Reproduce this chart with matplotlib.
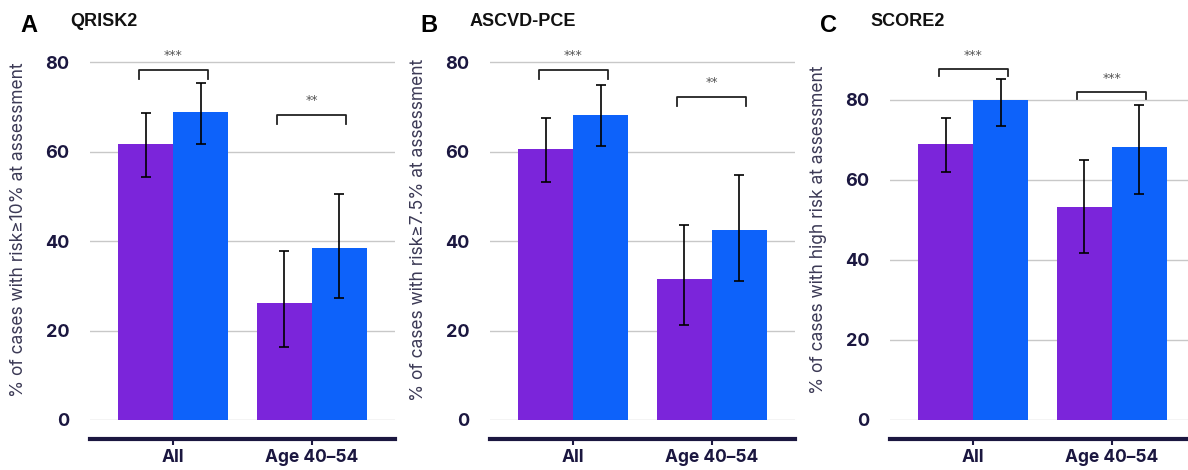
import matplotlib
matplotlib.use("Agg")
import matplotlib.pyplot as plt
import numpy as np

# date
grupe = ["All", "Age 40\u201354"]
panouri = ["A", "B", "C"]
titluri = ["QRISK2", "ASCVD-PCE", "SCORE2"]
etichete_y = ["% of cases with risk\u226510% at assessment",
              "% of cases with risk\u22657.5% at assessment",
              "% of cases with high risk at assessment"]

mov_val = [[61.7, 26.1], [60.6, 31.5], [69.0, 53.3]]
mov_jos = [[54.3, 16.3], [53.2, 21.2], [62.0, 41.7]]
mov_sus = [[68.6, 37.8], [67.5, 43.6], [75.5, 65.0]]

alb_val = [[68.8, 38.4], [68.2, 42.5], [80.0, 68.3]]
alb_jos = [[61.7, 27.3], [61.2, 31.1], [73.5, 56.5]]
alb_sus = [[75.3, 50.5], [74.9, 54.7], [85.3, 78.8]]

stele = [["***", "**"], ["***", "**"], ["***", "***"]]
paranteze = [[78.2, 68.2], [78.2, 72.2], [87.8, 82.0]]

limite_y = [85, 85, 95]
ticks_y = [[0, 20, 40, 60, 80], [0, 20, 40, 60, 80], [0, 20, 40, 60, 80]]

MOV = "#7B25DA"
ALBASTRU = "#0D62FA"
NAVY = "#1B1740"

fig = plt.figure(figsize=(11.88, 4.70), dpi=100)
stanga = [90, 490, 890]

for i in range(3):
    ax = fig.add_axes([stanga[i] / 1188, 50 / 470, 305 / 1188, 380 / 470])
    x = np.arange(len(grupe))
    w = 0.396
    m = np.array(mov_val[i])
    b = np.array(alb_val[i])
    ax.bar(x - w / 2, m, w, color=MOV, zorder=2)
    ax.bar(x + w / 2, b, w, color=ALBASTRU, zorder=2)
    ax.errorbar(x - w / 2, m, yerr=[m - np.array(mov_jos[i]), np.array(mov_sus[i]) - m],
                fmt="none", ecolor="black", elinewidth=1.2, capsize=3.5, capthick=1.2, zorder=3)
    ax.errorbar(x + w / 2, b, yerr=[b - np.array(alb_jos[i]), np.array(alb_sus[i]) - b],
                fmt="none", ecolor="black", elinewidth=1.2, capsize=3.5, capthick=1.2, zorder=3)

    # paranteze de semnificatie
    for g in range(2):
        yp = paranteze[i][g]
        h = 1.9 if limite_y[i] == 85 else 1.8
        ax.plot([g - 0.25, g - 0.25, g + 0.25, g + 0.25], [yp - h, yp, yp, yp - h],
                color="#222222", lw=1.3, zorder=3)
        ax.text(g, yp + 3.3, stele[i][g], ha="center", va="center",
                fontsize=9, color="#555555")

    ax.set_xlim(-0.6, 1.6)
    ax.set_ylim(0, limite_y[i])
    ax.set_yticks(ticks_y[i])
    ax.yaxis.grid(True, color="#c8c8c8", lw=1, zorder=0)
    ax.set_axisbelow(True)
    for s in ["left", "right", "top"]:
        ax.spines[s].set_visible(False)
    ax.spines["bottom"].set_position(("outward", 13.7))
    ax.spines["bottom"].set_color(NAVY)
    ax.spines["bottom"].set_linewidth(3)
    ax.set_xticks(x)
    ax.set_xticklabels(grupe, fontsize=12.5, fontweight="bold", color=NAVY, family="Inter")
    ax.tick_params(axis="x", length=4, width=1.5, color=NAVY, pad=3)
    ax.tick_params(axis="y", length=0, pad=15)
    for t in ax.get_yticklabels():
        t.set_fontsize(13)
        t.set_fontweight("bold")
        t.set_color(NAVY)
        t.set_family("Inter")
    ax.set_ylabel(etichete_y[i], fontsize=12.5, color="#3b3955", family="Inter")
    ax.yaxis.set_label_coords(-0.205, 0.5)

    fig.text((stanga[i] - 70) / 1188, 1 - 26 / 470, panouri[i], fontsize=17,
             fontweight="bold", family="Liberation Sans", va="center", ha="left")
    fig.text((stanga[i] - 20) / 1188, 1 - 22 / 470, titluri[i], fontsize=13,
             fontweight="bold", family="Liberation Sans", va="center", ha="left", color="#111111")

fig.savefig("out.png", dpi=100)
